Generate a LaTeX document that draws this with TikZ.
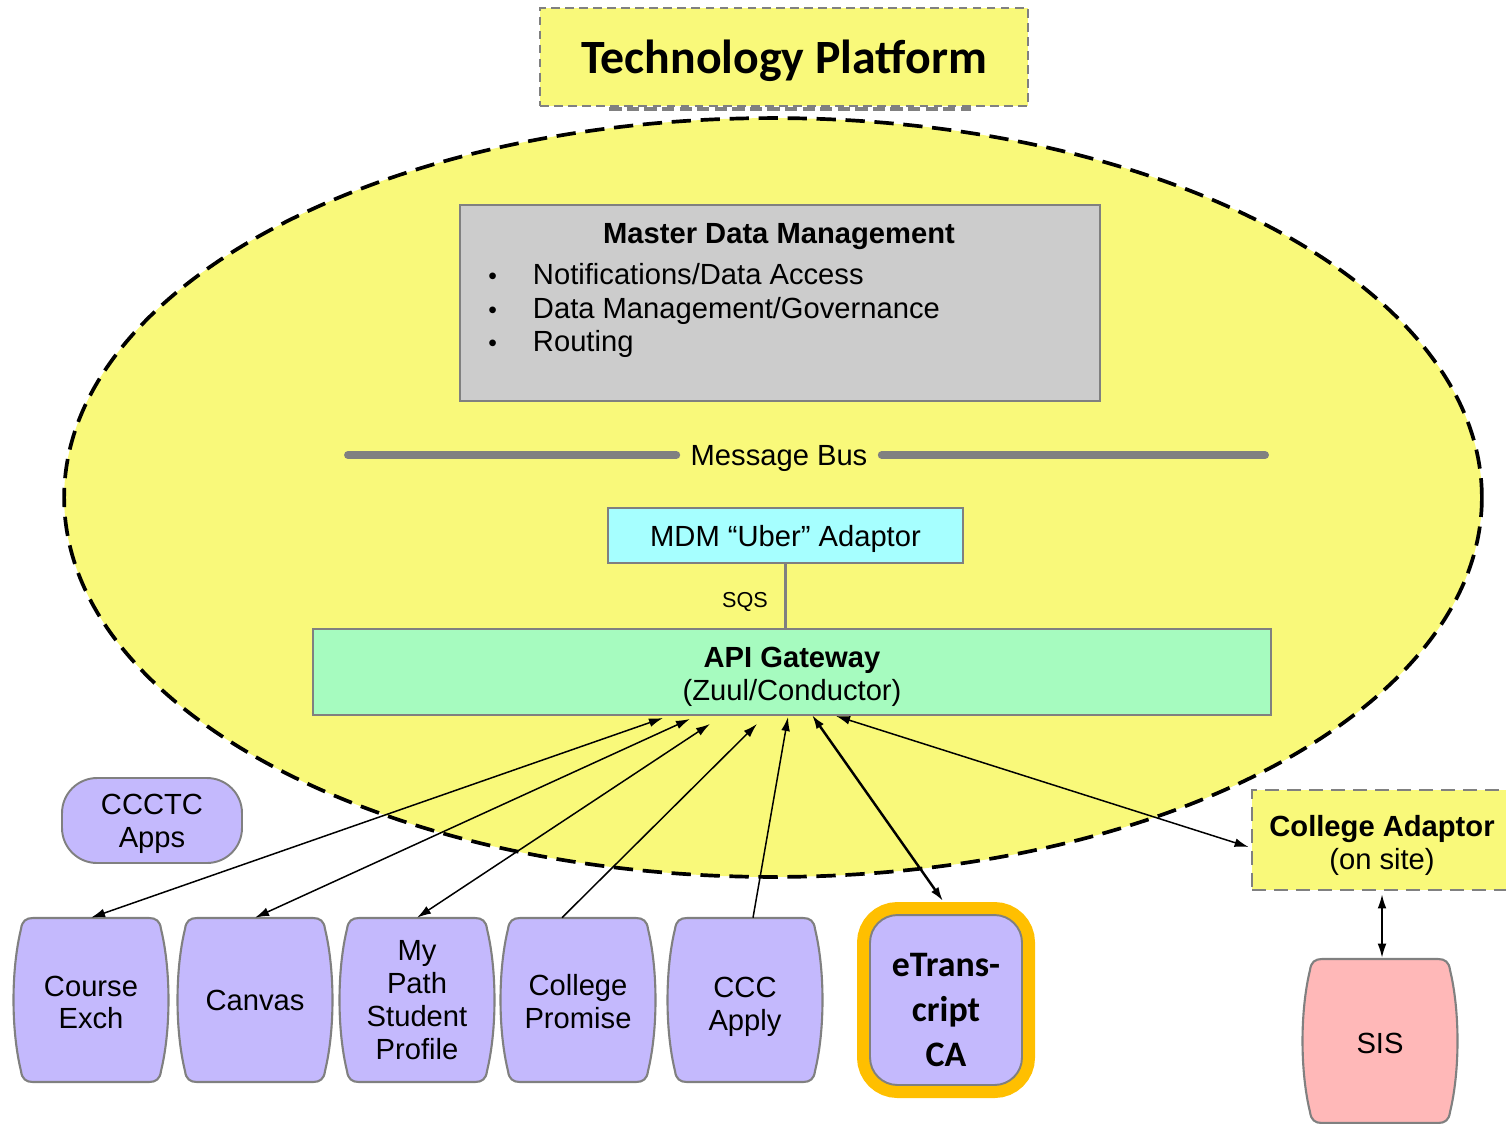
\documentclass[tikz,border=0pt]{standalone}
\usepackage{fontspec}
\setmainfont{Liberation Sans}
\newfontfamily\calibri{Carlito}
\usepackage{tikz}
\usetikzlibrary{arrows.meta,calc}

\definecolor{platformyellow}{RGB}{249,249,122}
\definecolor{mdmgray}{RGB}{204,204,204}
\definecolor{ubercyan}{RGB}{166,255,255}
\definecolor{apigreen}{RGB}{166,251,191}
\definecolor{applavender}{RGB}{196,185,253}
\definecolor{sispink}{RGB}{255,184,184}
\definecolor{amber}{RGB}{255,191,0}
\definecolor{edgegray}{RGB}{128,128,128}

\newcommand{\mdmitem}{{\fontsize{14}{14}\selectfont\textbullet}\hspace{20.5pt}}

\begin{document}
\begin{tikzpicture}[x=0.02cm, y=-0.02cm,
		every node/.style={font=\fontsize{16.6}{18.7}\selectfont, inner sep=0pt},
		platform/.style={draw=black, fill=platformyellow, line width=2.1pt, dash pattern=on 11pt off 5.5pt},
		titlebox/.style={draw=edgegray, fill=platformyellow, line width=0.9pt, dash pattern=on 5pt off 3pt,
			minimum width=9.76cm, minimum height=1.96cm, font=\calibri\bfseries\fontsize{27.2}{30}\selectfont},
		plainbox/.style={draw=edgegray, line width=1.1pt},
		appbox/.style={minimum width=3.08cm, minimum height=3.28cm, align=center},
		bus/.style={draw=edgegray, line width=4.5pt, line cap=round},
		link/.style={line width=0.85pt, >={Latex[length=8pt,width=5pt]}},
		barrel/.pic={
			\path[draw=edgegray, line width=1.2pt, pic actions]
				(-58,-82) -- (58,-82) .. controls (65,-82) and (69,-79) .. (70,-71)
				.. controls (80,-30) and (80,30) .. (70,71) .. controls (69,79) and (65,82) .. (58,82)
				-- (-58,82) .. controls (-65,82) and (-69,79) .. (-70,71)
				.. controls (-80,30) and (-80,-30) .. (-70,-71) .. controls (-69,-79) and (-65,-82) .. (-58,-82) -- cycle;
		}]
		\useasboundingbox (0,0) rectangle (1506,1123);

		% platform
		\draw[platform] (773,497.5) ellipse [x radius=14.18cm, y radius=7.59cm];

		\node[titlebox, text depth=0pt] (title) at (784,57) {Technology Platform};
		\draw[edgegray, line width=2pt, dash pattern=on 7pt off 3pt] ($(title.south west)+(70,2)$) -- ($(title.south east)+(-58,2)$);

		% master data management
		\node[plainbox, fill=mdmgray, minimum width=12.8cm, minimum height=3.92cm] (mdm) at (780,303) {};
		\node[anchor=base, font=\bfseries\fontsize{16.6}{18.7}\selectfont] (mdmtitle) at (779,243) {Master Data Management};
		\node[anchor=base west] (notify) at (488,284) {\mdmitem Notifications/Data Access};
		\node[anchor=base west] (govern) at (488,318) {\mdmitem Data Management/Governance};
		\node[anchor=base west] (routing) at (488,351) {\mdmitem Routing};

		% message bus
		\coordinate (busL) at (348,455);
		\coordinate (busR) at (1265,455);
		\node[inner xsep=8pt, text depth=0pt] (bus) at (779,455) {Message Bus};
		\draw[bus] (busL) -- (bus.west);
		\draw[bus] (bus.east) -- (busR);

		% adaptor and gateway
		\node[plainbox, fill=ubercyan, minimum width=7.1cm, minimum height=1.1cm, text depth=0pt] (uber) at (785.5,535.5) {MDM ``Uber'' Adaptor};
		\node[plainbox, fill=apigreen, minimum width=19.16cm, minimum height=1.72cm, align=center, text depth=0pt] (api) at (792,672) {\rule{0pt}{14pt}\textbf{API Gateway}\\(Zuul/Conductor)};
		\draw[edgegray, line width=2.2pt] (uber.south) -- (uber.south |- api.north);
		\node[font=\fontsize{12.3}{14}\selectfont] (sqs) at (745,602) {SQS};

		% apps
		\node[plainbox, fill=applavender, rounded corners=0.7cm, minimum width=3.6cm, minimum height=1.7cm, align=center, text depth=0pt] (ccctc) at (152,820.5) {CCCTC\\Apps};

		\pic[fill=applavender] at (91,1000) {barrel};
		\node[appbox] (course) at (91,1000) {\rule{0pt}{14.3pt}Course\\Exch};
		\pic[fill=applavender] at (255,1000) {barrel};
		\node[appbox] (canvas) at (255,1000) {Canvas};
		\pic[fill=applavender] at (417,1000) {barrel};
		\node[appbox] (mypath) at (417,1000) {My\\Path\\Student\\Profile};
		\pic[fill=applavender] at (578,1000) {barrel};
		\node[appbox] (promise) at (578,1000) {\rule{0pt}{14pt}College\\Promise};
		\pic[fill=applavender] at (745,1000) {barrel};
		\node[appbox, text depth=0pt] (cccapply) at (745,1000) {\rule{0pt}{15.5pt}CCC\\Apply};

		\node[plainbox, fill=applavender, rounded corners=0.55cm, minimum width=3.04cm, minimum height=3.4cm, align=center,
			font=\calibri\bfseries\fontsize{20.4}{25.5}\selectfont,
			preaction={draw=amber, line width=0.52cm}] (etrans) at (946,1000) {\rule{0pt}{24.5pt}eTrans-\\cript\\CA};

		\node[draw=edgegray, fill=platformyellow, line width=1.6pt, dash pattern=on 8pt off 4.5pt,
			minimum width=5.2cm, minimum height=2cm, align=center, text depth=0pt] (adaptor) at (1382,840) {\rule{0pt}{15pt}\textbf{College Adaptor}\\(on site)};

		\pic[fill=sispink] at (1380,1041) {barrel};
		\node[appbox, text height=14pt, text depth=0pt] (sis) at (1380,1041) {SIS};

		% connectors
		\draw[link, <->] (course.north) -- ($(api.south)+(-129,2)$);
		\draw[link, <->] (canvas.north) -- ($(api.south)+(-102,3)$);
		\draw[link, <->] (mypath.north) -- ($(api.south)+(-82,8)$);
		\draw[link, ->] ($(promise.north)+(-16,0)$) -- ($(api.south)+(-35,8)$);
		\draw[link, ->] ($(cccapply.north)+(8,0)$) -- ($(api.south)+(-4,1)$);
		\draw[link, <->, line width=1.4pt] ($(etrans.north)+(-3,-13)$) -- ($(api.south)+(20,-1)$);
		\draw[link, <->] ($(adaptor.west)+(-2,7)$) -- ($(api.south)+(44,0)$);
		\draw[link, <->] ($(adaptor.south)+(0,3)$) -- ($(sis.north)+(2,-1)$);
	\end{tikzpicture}
\end{document}
